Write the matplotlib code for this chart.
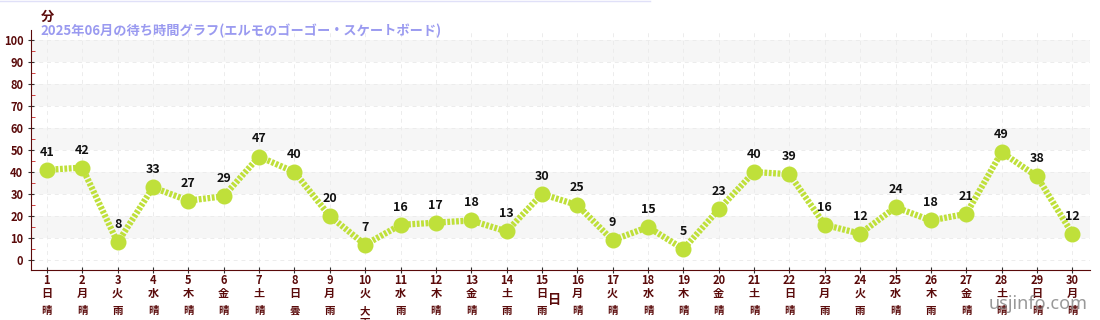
import matplotlib
matplotlib.use("Agg")
import matplotlib.pyplot as plt

plt.rcParams['font.family'] = ['Noto Sans CJK JP', 'DejaVu Sans']

days = list(range(1, 31))
weekdays = ['日', '月', '火', '水', '木', '金', '土', '日', '月', '火',
            '水', '木', '金', '土', '日', '月', '火', '水', '木', '金',
            '土', '日', '月', '火', '水', '木', '金', '土', '日', '月']
weather = ['晴', '晴', '雨', '晴', '晴', '晴', '晴', '曇', '雨', '大雨',
           '雨', '晴', '晴', '雨', '雨', '晴', '晴', '晴', '晴', '晴',
           '晴', '晴', '雨', '雨', '晴', '雨', '晴', '晴', '晴', '晴']
waits = [41, 42, 8, 33, 27, 29, 47, 40, 20, 7, 16, 17, 18, 13, 30,
         25, 9, 15, 5, 23, 40, 39, 16, 12, 24, 18, 21, 49, 38, 12]

title = '2025年06月の待ち時間グラフ(エルモのゴーゴー・スケートボード)'
dark = '#5a0a0a'
green = '#bfe03a'

fig = plt.figure(figsize=(11, 3.2), dpi=100)
ax = fig.add_axes([31/1100, 50/320, 1059/1100, 240/320])

ax.set_xlim(0.55, 30.5)
ax.set_ylim(-4.5, 104.5)

# alternating bands
for lo in range(10, 100, 20):
    ax.axhspan(lo, lo + 10, color='#f6f6f6', zorder=0, lw=0)

ax.grid(True, color='#ececec', linestyle=(0, (4, 4)), linewidth=0.7, zorder=0.5)

ax.plot(days, waits, color=green, linewidth=4.5, linestyle=(0, (0.45, 0.25)),
        dash_capstyle='butt', zorder=2)
ax.plot(days, waits, 'o', color=green, markersize=10.5, zorder=3)

for d, v in zip(days, waits):
    ax.annotate(str(v), (d, v), xytext=(0, 8), textcoords='offset points',
                ha='center', va='bottom', fontsize=9, fontweight='bold',
                color='#111111', zorder=4)

ax.set_yticks(range(0, 101, 10))
ax.set_yticks(range(5, 100, 10), minor=True)
ax.set_xticks(days)
ax.set_xticklabels([f'{d}\n{w}' for d, w in zip(days, weekdays)],
                   linespacing=0.95)
ax.tick_params(axis='y', which='major', labelsize=8, labelcolor=dark,
               color='#333333', length=4, direction='inout')
ax.tick_params(axis='y', which='minor', color='#cc2222', length=3,
               direction='in')
ax.tick_params(axis='x', labelsize=8, labelcolor=dark, color='#333333',
               length=4, direction='inout', pad=1)
for lab in ax.get_xticklabels() + ax.get_yticklabels():
    lab.set_fontweight('bold')

for s in ['top', 'right']:
    ax.spines[s].set_visible(False)
ax.spines['left'].set_color(dark)
ax.spines['bottom'].set_color(dark)

# weather row, written vertically (one character per line)
for d, w in zip(days, weather):
    x_fig = ax.transData.transform((d, 0))[0] / fig.dpi / 11
    for i, ch in enumerate(w):
        fig.text(x_fig, 1 - (311 + 12 * i)/320, ch, fontsize=7.5, color=dark,
                 ha='center', va='center', fontweight='bold')

fig.text(47/1100, 1 - 17/320, '分', fontsize=9.5, fontweight='bold',
         color=dark, ha='center', va='center')
fig.text(555/1100, 1 - 300/320, '日', fontsize=9.5, fontweight='bold',
         color=dark, ha='center', va='center')
fig.text(40/1100, 1 - 31/320, title, fontsize=9.5, fontweight='bold',
         color='#9a9af0', ha='left', va='center')
fig.text(1088/1100, 1 - 304/320, 'usjinfo.com', fontsize=13,
         color='#777777', alpha=0.75, ha='right', va='center',
         family=['Noto Sans', 'DejaVu Sans'])
fig.add_artist(plt.Line2D([0, 650/1100], [1 - 1/320, 1 - 1/320],
                          color='#e0e0f8', linewidth=1))

fig.savefig('out.png', dpi=100)
